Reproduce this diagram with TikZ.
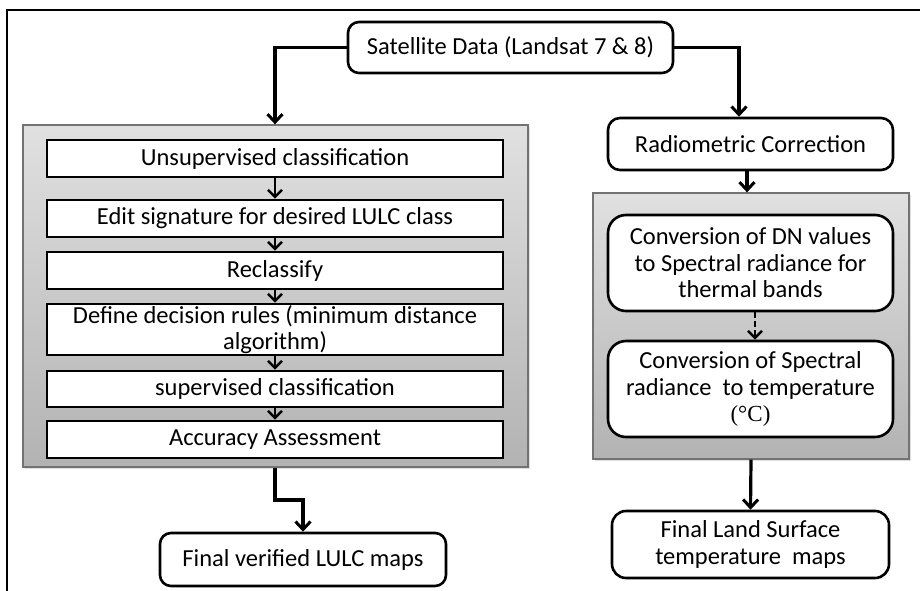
\documentclass[tikz,border=0pt]{standalone}
\usepackage{fontspec}
\setmainfont{Carlito}
\newfontfamily\serifcel{Liberation Serif}
\usetikzlibrary{arrows.meta,shadows}
\begin{document}
\begin{tikzpicture}[x=1pt,y=-1pt,
  font=\fontsize{24.5}{26.5}\selectfont,
  rbox/.style={draw=black, line width=2.6pt, fill=white, rounded corners=11pt, align=center, inner sep=2pt},
  sbox/.style={draw=black, line width=2.6pt, fill=white, align=center, inner sep=1pt, minimum width=456pt},
  graybox/.style={draw=black!55, line width=1.3pt, top color=black!12, bottom color=black!30,
     drop shadow={opacity=0.25, shadow xshift=2pt, shadow yshift=-2pt}},
  conn/.style={line width=3.2pt, -{Straight Barb[length=8pt,width=15pt,line width=3pt]}},
  small/.style={line width=2.6pt, -{Straight Barb[length=7pt,width=14pt,line width=2.6pt]}},
]
\useasboundingbox (0,0) rectangle (920,591);
\fill[white] (0,0) rectangle (920,591);
% outer frame (right and bottom cut off)
\draw[line width=2.6pt] (7,600) -- (7,10) -- (930,10);

% gray containers
\node[graybox, minimum width=505pt, minimum height=342pt] (lgray) at (275.5,296) {};
\node[graybox, minimum width=316pt, minimum height=266pt] (rgray) at (751,326) {};

% top node
\node[rbox, minimum width=325pt, minimum height=51pt] (sat) at (510.5,47.5) {Satellite Data (Landsat 7 \& 8)};

% left column
\node[sbox, minimum height=37pt] (u) at (275,158.5) {Unsupervised classification};
\node[sbox, minimum height=37pt] (e) at (275,218.5) {Edit signature for desired LULC class};
\node[sbox, minimum height=37pt] (r) at (275,270.5) {Reclassify};
\node[sbox, minimum height=51pt] (d) at (275,329.5) {Define decision rules (minimum distance\\ algorithm)};
\node[sbox, minimum height=36pt] (s) at (275,389) {supervised classification};
\node[sbox, minimum height=37pt] (a) at (275,439.5) {Accuracy Assessment};
\node[rbox, minimum width=286pt, minimum height=53pt] (fv) at (303,559.5) {Final verified LULC maps};

% right column
\node[rbox, rounded corners=12pt, minimum width=285pt, minimum height=52pt] (rad) at (750.5,144) {Radiometric Correction};
\node[rbox, rounded corners=18pt, minimum width=285pt, minimum height=96pt] (dn) at (750.5,263) {Conversion of DN values\\ to Spectral radiance for\\ thermal bands};
\node[rbox, rounded corners=18pt, minimum width=285pt, minimum height=96pt] (sp) at (750.5,389) {Conversion of Spectral\\ radiance\ \ to temperature\\ {\serifcel\fontsize{23}{26.5}\selectfont(°C)}};
\node[rbox, rounded corners=14pt, minimum width=277pt, minimum height=67pt] (lst) at (750.5,544.5) {Final Land Surface\\ temperature\ \ maps};

% connectors
\draw[conn] (sat.west) -| (lgray.north -| u.north);
\coordinate (radin) at ([xshift=-11.5pt]rad.north);
\draw[conn] (sat.east) -| (radin);
\coordinate (radout) at ([xshift=-3.5pt]rad.south);
\draw[conn] (radout) -- (radout |- rgray.north);

\draw[small] (u) -- (e);
\draw[small] (e) -- (r);
\draw[small] (r) -- (d);
\draw[small] (d) -- (s);
\draw[small] (s) -- (a);

\coordinate (lgb) at (lgray.south -| u.south);
\coordinate (bend) at (275,500);
\draw[conn] (lgb) -- (bend) -| (fv.north);

\coordinate (dnout) at ([xshift=4.5pt]dn.south);
\draw[small, dash pattern=on 6pt off 3pt] (dnout) -- (dnout |- sp.north);
\draw[conn] (rgray.south) -- (lst.north);
\end{tikzpicture}
\end{document}
